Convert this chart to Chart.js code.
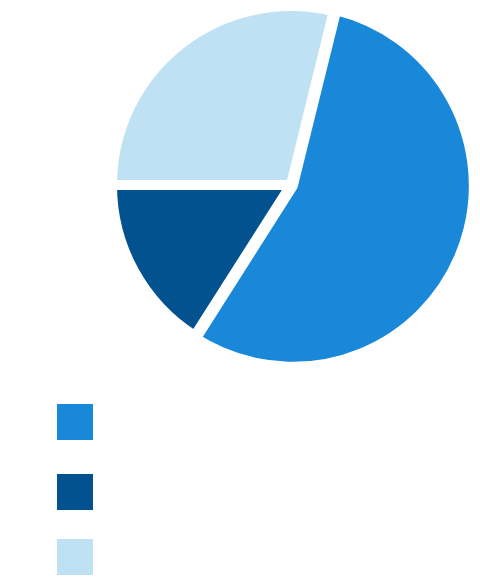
<!DOCTYPE html>
<html>
<head>
<meta charset="utf-8">
<script src="https://cdn.jsdelivr.net/npm/chart.js@4.4.0/dist/chart.umd.min.js"></script>
<style>
  html, body { margin: 0; padding: 0; background: #ffffff; width: 480px; height: 581px; overflow: hidden; }
  #wrap { position: relative; width: 480px; height: 581px; }
  #pieBox { position: absolute; left: 103px; top: -3px; width: 376px; height: 376px; }
  #legend { position: absolute; left: 57px; top: 404px; font-family: "DejaVu Sans", sans-serif; }
  .item { position: absolute; left: 0; width: 36px; height: 36px; }
</style>
</head>
<body>
<div id="wrap">
  <div id="pieBox"><canvas id="c"></canvas></div>
  <div id="legend"></div>
</div>
<script>
const categories = ["Category 1", "Category 2", "Category 3"];
const values = [55.2, 16.0, 28.8];
const colors = ["#1a88d9", "#02528f", "#bee2f4"];
const sliceOffsets = [8, 0, 0];
const legendOffsets = [0, 70, 135];

new Chart(document.getElementById('c'), {
  type: 'pie',
  data: {
    labels: categories,
    datasets: [{
      data: values,
      backgroundColor: colors,
      borderColor: '#ffffff',
      borderWidth: 10,
      offset: sliceOffsets,
      hoverOffset: 0,
      hoverBorderWidth: 10
    }]
  },
  options: {
    responsive: true,
    maintainAspectRatio: false,
    animation: false,
    rotation: 13.8,
    layout: { padding: 0 },
    plugins: {
      legend: { display: false },
      tooltip: { enabled: false }
    }
  }
});

const legend = document.getElementById('legend');
categories.forEach((name, i) => {
  const d = document.createElement('div');
  d.className = 'item';
  d.style.top = legendOffsets[i] + 'px';
  d.style.background = colors[i];
  d.title = name;
  legend.appendChild(d);
});
</script>
</body>
</html>
